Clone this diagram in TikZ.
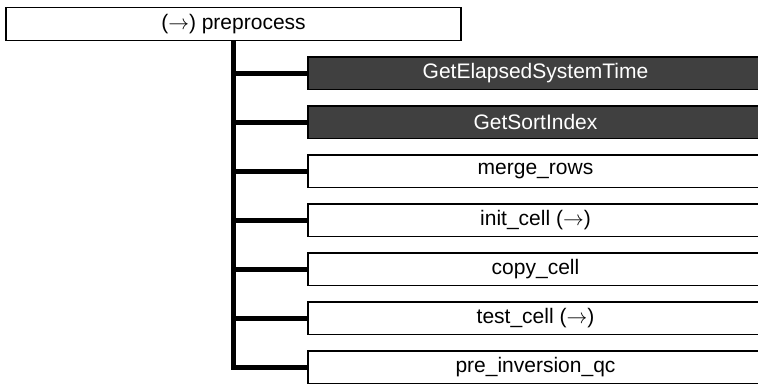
\documentclass[tikz,border=0pt]{standalone}
\usepackage{fontspec}
\setmainfont{Liberation Sans}
\begin{document}
\begin{tikzpicture}[x=1pt,y=-1pt,
  box/.style={draw=black, line width=1.3pt, minimum width=455pt, minimum height=32.5pt,
    inner sep=0pt, font=\fontsize{21}{24}\selectfont, fill=white, text=black},
  darkbox/.style={box, fill=boxgray, text=white},
  trunk/.style={line width=5pt, black}]
\definecolor{boxgray}{HTML}{404040}
\useasboundingbox (0,0) rectangle (758,385);
\node[box] (top) at (233.5,24) {($\rightarrow$) preprocess};
\node[darkbox] (c1) at (535.5,73.25) {GetElapsedSystemTime};
\node[darkbox] (c2) at (535.5,122.25) {GetSortIndex};
\node[box] (c3) at (535.5,171.25) {merge\_rows};
\node[box] (c4) at (535.5,220.25) {init\_cell ($\rightarrow$)};
\node[box] (c5) at (535.5,269.25) {copy\_cell};
\node[box] (c6) at (535.5,318.25) {test\_cell ($\rightarrow$)};
\node[box] (c7) at (535.5,367.25) {pre\_inversion\_qc};
\draw[trunk] (top.south) -- (top.south |- c7.west) -- (c7.west);
\foreach \c in {c1,c2,c3,c4,c5,c6}
  \draw[trunk] (top.south |- \c.west) -- (\c.west);
\end{tikzpicture}
\end{document}
